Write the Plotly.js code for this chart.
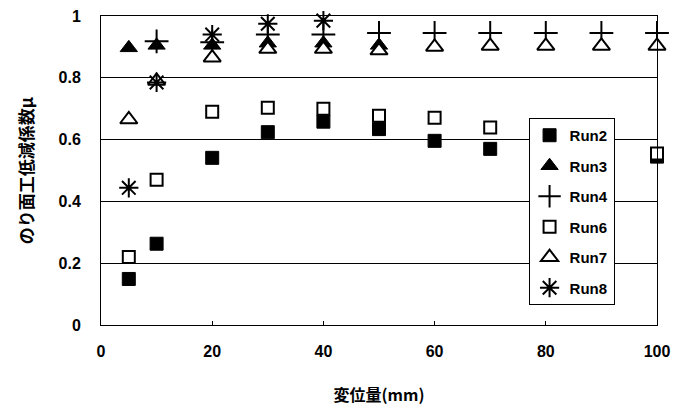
<!DOCTYPE html>
<html>
<head>
<meta charset="utf-8">
<script src="https://cdn.plot.ly/plotly-3.0.1.min.js"></script>
<style>html,body{margin:0;padding:0;background:#fff;}#chart{width:689px;height:408px;}</style>
</head>
<body>
<div id="chart"></div>
<script>
const run2X = [5, 10, 20, 30, 40, 50, 60, 70, 100];
const run2Y = [0.149, 0.263, 0.541, 0.624, 0.658, 0.634, 0.596, 0.570, 0.545];
const run3X = [5, 10, 20, 30, 40, 50];
const run3Y = [0.897, 0.905, 0.905, 0.912, 0.912, 0.905];
const run4X = [10, 20, 30, 40, 50, 60, 70, 80, 90, 100];
const run4Y = [0.918, 0.915, 0.940, 0.940, 0.945, 0.945, 0.945, 0.945, 0.945, 0.945];
const run6X = [5, 10, 20, 30, 40, 50, 60, 70, 100];
const run6Y = [0.220, 0.470, 0.690, 0.703, 0.700, 0.677, 0.671, 0.639, 0.555];
const run7X = [5, 10, 20, 30, 40, 50, 60, 70, 80, 90, 100];
const run7Y = [0.665, 0.790, 0.865, 0.893, 0.893, 0.888, 0.900, 0.903, 0.903, 0.903, 0.903];
const run8X = [5, 10, 20, 30, 40];
const run8Y = [0.444, 0.785, 0.940, 0.975, 0.985];
const xTicks = [0, 20, 40, 60, 80, 100];
const yTicks = [0, 0.2, 0.4, 0.6, 0.8, 1];
const yTickText = ['0', '0.2', '0.4', '0.6', '0.8', '1'];

const lw = 2;
function tr(name, x, y, marker) {
  return {type: 'scatter', mode: 'markers', name: name, x: x, y: y,
    marker: marker, legendgroup: name, cliponaxis: false};
}
const data = [
  tr('Run2', run2X, run2Y, {symbol: 'square', size: 13, color: '#000', line: {color: '#000', width: 1}}),
  tr('Run3', run3X, run3Y, {symbol: 'triangle-up', size: 15, color: '#000', line: {color: '#000', width: 1}}),
  tr('Run4', run4X, run4Y, {symbol: 'cross-thin-open', size: 17, color: '#000', line: {color: '#000', width: lw}}),
  tr('Run6', run6X, run6Y, {symbol: 'square', size: 12, color: '#fff', line: {color: '#000', width: lw}}),
  tr('Run7', run7X, run7Y, {symbol: 'triangle-up', size: 15, color: '#fff', line: {color: '#000', width: lw}}),
  tr('Run8', run8X, run8Y, {symbol: 'asterisk-open', size: 16, color: '#000', line: {color: '#000', width: lw}})
];
const tickFont = {family: 'Liberation Sans, Arial, sans-serif', size: 16, color: '#000', weight: 'bold'};
const layout = {
  width: 689, height: 408,
  margin: {l: 101, r: 32, t: 16, b: 83},
  paper_bgcolor: '#fff', plot_bgcolor: '#fff',
  showlegend: true,
  xaxis: {
    range: [0, 100], tickvals: xTicks, ticktext: xTicks.map(String),
    showgrid: false, zeroline: false, showline: true, linecolor: '#000', linewidth: 1, mirror: true,
    ticks: 'inside', ticklen: 4, tickcolor: '#000', tickfont: tickFont, ticklabelstandoff: 12,
    title: {text: '変位量(mm)', font: {family: 'Noto Sans CJK JP, sans-serif', size: 16, color: '#000', weight: 'bold'}, standoff: 30}
  },
  yaxis: {
    range: [0, 1], tickvals: yTicks, ticktext: yTickText,
    showgrid: true, gridcolor: '#000', gridwidth: 1, zeroline: false,
    showline: true, linecolor: '#000', linewidth: 1, mirror: true,
    ticks: '', tickfont: tickFont, ticklabelstandoff: 16,
    title: {text: 'のり面工低減係数μ', font: {family: 'Noto Sans CJK JP, sans-serif', size: 17, color: '#000', weight: 'bold'}, standoff: 20}
  },
  legend: {
    x: 0.769, y: 0.67, xanchor: 'left', yanchor: 'top',
    bgcolor: '#fff', bordercolor: '#000', borderwidth: 1,
    font: {family: 'Liberation Sans, Arial, sans-serif', size: 15, color: '#000', weight: 'bold'},
    traceorder: 'grouped', tracegroupgap: 8, itemwidth: 30
  }
};
Plotly.newPlot('chart', data, layout, {displayModeBar: false, staticPlot: true});
</script>
</body>
</html>
